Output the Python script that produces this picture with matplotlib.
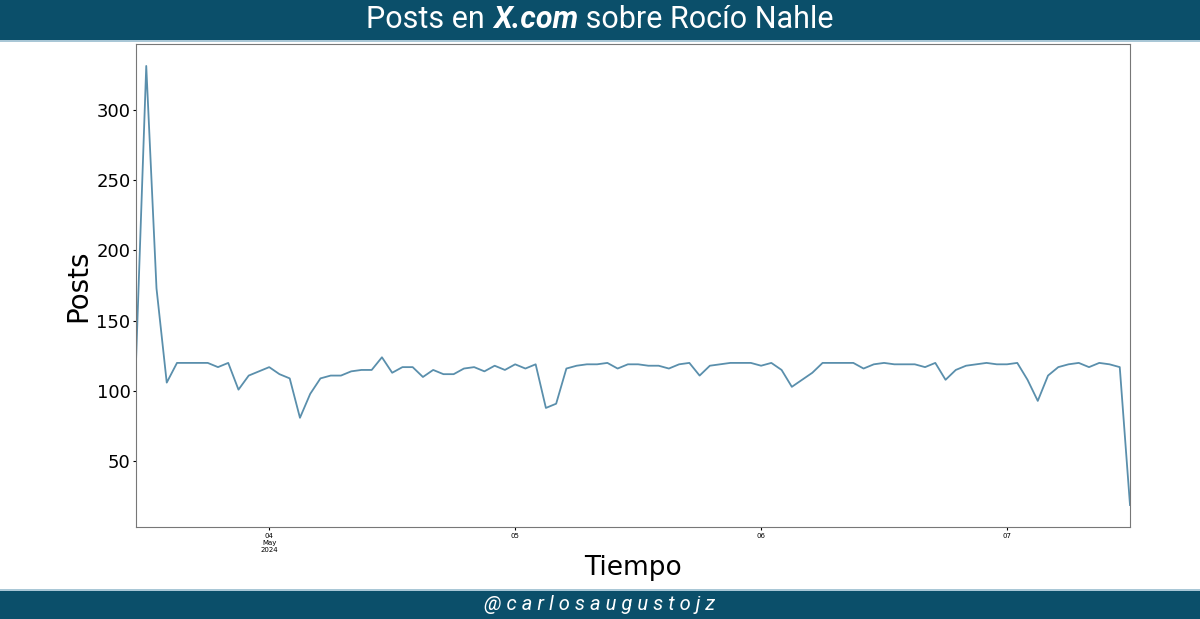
import matplotlib
matplotlib.use("Agg")
import matplotlib.pyplot as plt
import matplotlib.dates as mdates
from matplotlib.patches import Rectangle
import numpy as np
import pandas as pd

# hourly post counts, May 3 11:00 -> May 7 12:00 (2024)
start = "2024-05-03 11:00"
posts = [
    121, 331, 173, 106, 120, 120, 120, 120, 117, 120,
    101, 111, 114, 117, 112, 109, 81, 98, 109, 111,
    111, 114, 115, 115, 124, 113, 117, 117, 110, 115,
    112, 112, 116, 117, 114, 118, 115, 119, 116, 119,
    88, 91, 116, 118, 119, 119, 120, 116, 119, 119,
    118, 118, 116, 119, 120, 111, 118, 119, 120, 120,
    120, 118, 120, 115, 103, 108, 113, 120, 120, 120,
    120, 116, 119, 120, 119, 119, 119, 117, 120, 108,
    115, 118, 119, 120, 119, 119, 120, 108, 93, 111,
    117, 119, 120, 117, 120, 119, 117, 19,
]
times = pd.date_range(start, periods=len(posts), freq="h")

title_parts = [("Posts en ", "normal", "normal"),
               ("X.com", "bold", "italic"),
               (" sobre Rocío Nahle", "normal", "normal")]
firma = "@carlosaugustojz"

banner = "#0b4f6a"
line_color = "#5a8fac"

fig = plt.figure(figsize=(12, 6.19), dpi=100)
fig.add_artist(Rectangle((0, 1 - 40 / 619), 1, 40 / 619, transform=fig.transFigure,
                         facecolor=banner, edgecolor="none"))
fig.add_artist(Rectangle((0, 1 - 42 / 619), 1, 2 / 619, transform=fig.transFigure,
                         facecolor="#a9c7d6", edgecolor="none"))
fig.add_artist(Rectangle((0, 0), 1, 28 / 619, transform=fig.transFigure,
                         facecolor=banner, edgecolor="none"))
fig.add_artist(Rectangle((0, 28 / 619), 1, 2 / 619, transform=fig.transFigure,
                         facecolor="#a9c7d6", edgecolor="none"))

ax = fig.add_axes([136 / 1200, 1 - 527 / 619, (1130 - 136) / 1200, (527 - 44) / 619])
ax.plot(times, posts, color=line_color, linewidth=1.3)
ax.set_xlim(times[0], times[-1])

ax.xaxis.set_major_locator(mdates.DayLocator())


def fmt_day(x, pos):
    d = mdates.num2date(x)
    if pos == 0:
        return d.strftime("%d\n%b\n%Y")
    return d.strftime("%d")


ax.xaxis.set_major_formatter(plt.FuncFormatter(fmt_day))
ax.tick_params(axis="x", labelsize=5, length=2.5, pad=1.5)
ax.tick_params(axis="y", labelsize=13, length=2.5, pad=1.5)
ax.set_xlabel("Tiempo", fontsize=19, labelpad=2)
ax.set_ylabel("Posts", fontsize=20, labelpad=3)
for s in ax.spines.values():
    s.set_color("#777777")

# title made of pieces so "X.com" can be bold italic
fig.canvas.draw()
r = fig.canvas.get_renderer()
texts = []
for txt, w, st in title_parts:
    texts.append(fig.text(0, 1 - 20 / 619, txt, fontsize=22, color="white", family="Roboto",
                          weight=w, style=st, va="center", ha="left"))
widths = [t.get_window_extent(r).width for t in texts]
x = (1200 - sum(widths)) / 2
for t, w in zip(texts, widths):
    t.set_x(x / 1200)
    x += w

fig.text(0.5, 14 / 619, " ".join(firma), fontsize=14.5, color="white", family="Roboto",
         style="italic", ha="center", va="center")

fig.savefig("out.png", dpi=100)
